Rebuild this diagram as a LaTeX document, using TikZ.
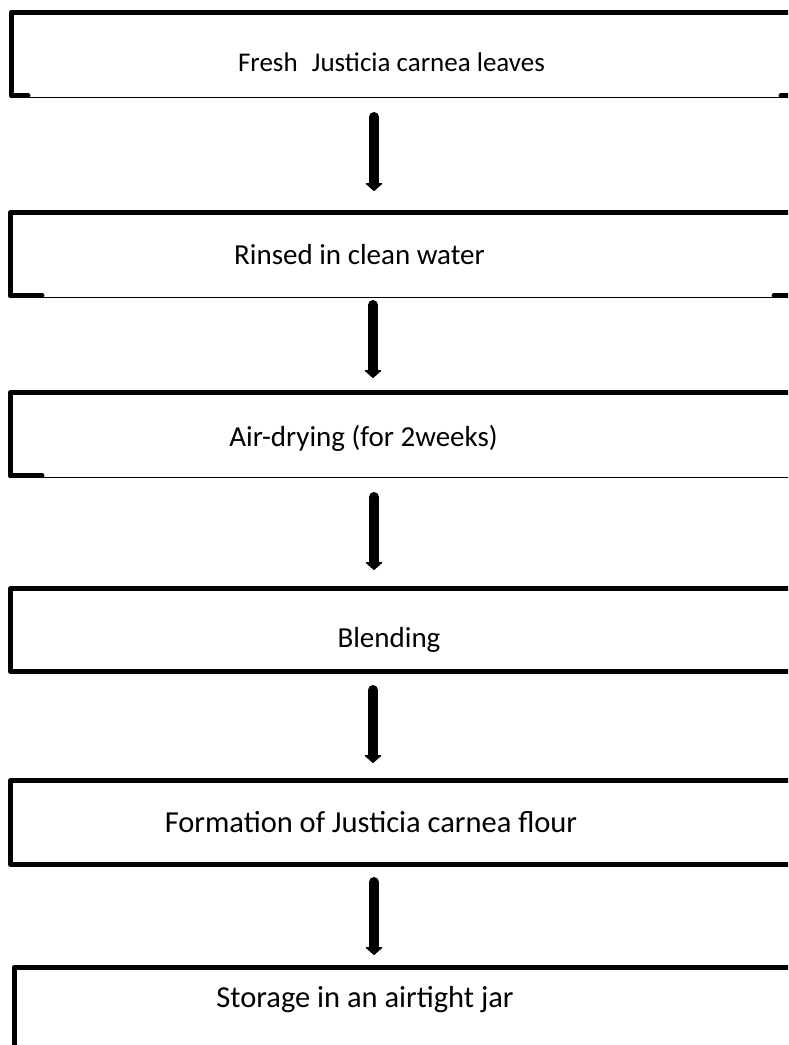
\documentclass[tikz,border=0pt]{standalone}
\usepackage{fontspec}
\setmainfont{Carlito}
\usetikzlibrary{arrows.meta}
\begin{document}
\begin{tikzpicture}[x=1pt,y=-1pt,
  thickline/.style={line width=5pt,line join=round,line cap=round},
  cornerline/.style={line width=5pt,line cap=round},
  thinline/.style={line width=1.8pt},
  steplabel/.style={font=\fontsize{29}{34}\selectfont,inner sep=0pt,anchor=center},
  biglabel/.style={steplabel,font=\fontsize{30.5}{35}\selectfont},
  smalllabel/.style={steplabel,font=\fontsize{27}{32}\selectfont},
  flow/.style={line width=10pt,line cap=round,-{Triangle[width=18pt,length=8pt,line width=1pt,round]}}]
\useasboundingbox (0,0) rectangle (788,1045);
\clip (0,0) rectangle (788,1045);
% box 1
\draw[thickline] (11.5,95.5) -- (11.5,12) -- (800,12);
\draw[thinline] (11.5,97.5) -- (800,97.5);
\draw[cornerline] (11.5,95.5) -- (28,95.5);
\draw[cornerline] (781,95.5) -- (800,95.5);
% box 2
\draw[thickline] (10.5,295.5) -- (10.5,212.5) -- (800,212.5);
\draw[thinline] (10.5,297.5) -- (800,297.5);
\draw[cornerline] (10.5,295.5) -- (42,295.5);
\draw[cornerline] (774,295.5) -- (800,295.5);
% box 3
\draw[thickline] (10.5,475.5) -- (10.5,392.5) -- (800,392.5);
\draw[thinline] (10.5,477.5) -- (800,477.5);
\draw[cornerline] (10.5,475.5) -- (42,475.5);
% box 4
\draw[thickline] (10.5,588.5) rectangle (800,671.5);
% box 5
\draw[thickline] (10.5,780.5) rectangle (800,864.5);
% box 6
\draw[thickline] (14,967.5) rectangle (800,1100);
% labels
\node[smalllabel] (t1) at (391.5,62) {Fresh\hspace{0.3em}\ Justicia carnea leaves};
\node[steplabel] (t2) at (359.5,255) {Rinsed in clean water};
\node[steplabel] (t3) at (363.5,438) {Air-drying (for 2weeks)};
\node[steplabel] (t4) at (389,640) {Blending};
\node[biglabel] (t5) at (371,822) {Formation of Justicia carnea flour};
\node[biglabel] (t6) at (365,1000) {Storage in an airtight jar};
% arrows
\coordinate (a1s) at (374,117); \coordinate (a1e) at (374,191);
\coordinate (a2s) at (373,305); \coordinate (a2e) at (373,378);
\coordinate (a3s) at (374,497); \coordinate (a3e) at (374,570);
\coordinate (a4s) at (373,690); \coordinate (a4e) at (373,763);
\coordinate (a5s) at (374,882); \coordinate (a5e) at (374,955);
\draw[flow] (a1s) -- (a1e);
\draw[flow] (a2s) -- (a2e);
\draw[flow] (a3s) -- (a3e);
\draw[flow] (a4s) -- (a4e);
\draw[flow] (a5s) -- (a5e);
\end{tikzpicture}
\end{document}
